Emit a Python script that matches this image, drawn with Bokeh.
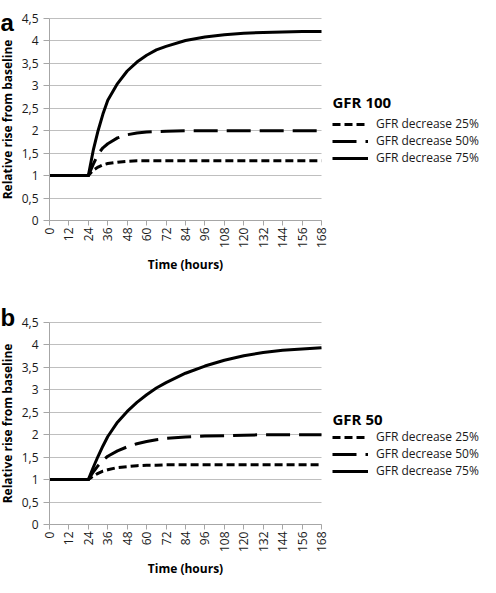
from math import pi
from bokeh.plotting import figure
from bokeh.models import Range1d, FixedTicker, Legend, LegendItem, Label
from bokeh.layouts import column
from bokeh.embed import file_html
from bokeh.resources import INLINE

# ---- data ----
hours = [0, 12, 24, 27, 30, 33, 36, 42, 48, 54, 60, 66, 72, 84, 96, 108, 120, 132, 144, 156, 168]

gfr100_dec25 = [1, 1, 1, 1.12, 1.19, 1.24, 1.27, 1.30, 1.32, 1.33, 1.33, 1.33, 1.33, 1.33, 1.33, 1.33, 1.33, 1.33, 1.33, 1.33, 1.33]
gfr100_dec50 = [1, 1, 1, 1.25, 1.48, 1.62, 1.71, 1.84, 1.91, 1.95, 1.97, 1.98, 1.99, 2.0, 2.0, 2.0, 2.0, 2.0, 2.0, 2.0, 2.0]
gfr100_dec75 = [1, 1, 1, 1.56, 2.0, 2.37, 2.68, 3.05, 3.33, 3.53, 3.68, 3.80, 3.88, 4.01, 4.09, 4.14, 4.17, 4.19, 4.20, 4.21, 4.21]

gfr50_dec25 = [1, 1, 1, 1.08, 1.14, 1.19, 1.22, 1.27, 1.29, 1.31, 1.32, 1.32, 1.33, 1.33, 1.33, 1.33, 1.33, 1.33, 1.33, 1.33, 1.33]
gfr50_dec50 = [1, 1, 1, 1.17, 1.31, 1.43, 1.52, 1.64, 1.73, 1.80, 1.85, 1.89, 1.92, 1.95, 1.97, 1.98, 1.99, 2.0, 2.0, 2.0, 2.0]
gfr50_dec75 = [1, 1, 1, 1.27, 1.52, 1.75, 1.96, 2.28, 2.52, 2.72, 2.89, 3.04, 3.16, 3.37, 3.53, 3.66, 3.76, 3.83, 3.88, 3.91, 3.94]

x_ticks = [0, 12, 24, 36, 48, 60, 72, 84, 96, 108, 120, 132, 144, 156, 168]
y_ticks = [0, 0.5, 1, 1.5, 2, 2.5, 3, 3.5, 4, 4.5]
y_tick_labels = ["0", "0,5", "1", "1,5", "2", "2,5", "3", "3,5", "4", "4,5"]

series_labels = ["GFR decrease 25%", "GFR decrease 50%", "GFR decrease 75%"]
panel_titles = ["GFR 100", "GFR 50"]
panel_letters = ["a", "b"]
x_title = "Time (hours)"
y_title = "Relative rise from baseline"

FONT = "Open Sans"
FIG_W = 480
PLOT_LEFT = 49      # pixel of x = 0
PLOT_W = 272        # pixels from x = 0 to x = 168
PLOT_H = 202        # pixels from y = 0 to y = 4.5
LEG_X = 332         # pixel of legend sample start
ITEM_H = 18         # measured legend row height
ROW = 16            # wanted legend row pitch

dashes = ["8 4", "24 9", "solid"]


def make_panel(letter, title, series, fig_h, plot_top, letter_base, title_cy, first_cy):
    x0, x1 = x_ticks[0], x_ticks[-1]
    y0, y1 = y_ticks[0], y_ticks[-1]
    xs = (x1 - x0) / PLOT_W
    ys = (y1 - y0) / PLOT_H
    plot_bottom = plot_top + PLOT_H
    xr = Range1d(x0 - PLOT_LEFT * xs, x0 + (FIG_W - PLOT_LEFT) * xs)
    yr = Range1d(y0 - (fig_h - plot_bottom) * ys, y1 + plot_top * ys)

    p = figure(width=FIG_W, height=fig_h, x_range=xr, y_range=yr,
               output_backend="svg", toolbar_location=None,
               min_border=0)
    p.outline_line_color = None
    p.background_fill_color = "white"
    p.border_fill_color = "white"

    p.xgrid.visible = False
    p.ygrid.ticker = FixedTicker(ticks=y_ticks)
    p.ygrid.grid_line_color = "#bfbfbf"
    p.ygrid.grid_line_width = 1
    p.ygrid.bounds = (y0, y1)
    p.ygrid.cross_bounds = (x0, x1)

    xa = p.xaxis[0]
    xa.fixed_location = y0
    xa.bounds = (x0, x1)
    xa.ticker = FixedTicker(ticks=x_ticks)
    xa.major_label_orientation = pi / 2
    xa.major_tick_out = 5
    xa.major_tick_in = 0
    xa.minor_tick_out = 0
    xa.minor_tick_in = 0
    xa.major_label_standoff = 2
    xa.axis_label = x_title
    xa.axis_label_standoff = 5

    ya = p.yaxis[0]
    ya.fixed_location = x0
    ya.bounds = (y0, y1)
    ya.ticker = FixedTicker(ticks=y_ticks)
    ya.major_label_overrides = dict(zip(y_ticks, y_tick_labels))
    ya.major_tick_out = 6
    ya.major_tick_in = 0
    ya.minor_tick_out = 0
    ya.minor_tick_in = 0
    ya.major_label_standoff = 5
    ya.axis_label = y_title
    ya.axis_label_standoff = 3

    for ax in (xa, ya):
        ax.axis_line_color = "#a6a6a6"
        ax.major_tick_line_color = "#a6a6a6"
        ax.major_label_text_font = FONT
        ax.major_label_text_font_size = "12px"
        ax.major_label_text_color = "#1a1a1a"
        ax.axis_label_text_font = FONT
        ax.axis_label_text_font_size = "12px"
        ax.axis_label_text_font_style = "bold"
        ax.axis_label_text_color = "#000000"

    items = []
    for vals, dash, lab in zip(series, dashes, series_labels):
        r = p.line(hours, vals, line_color="black", line_width=3,
                   line_dash=dash, line_cap="butt", line_join="round")
        items.append(LegendItem(label=lab, renderers=[r]))

    leg_top = first_cy - ITEM_H / 2
    leg_h = 3 * ITEM_H + 2 * (ROW - ITEM_H)
    leg = Legend(items=items, location=(LEG_X, fig_h - (leg_top + leg_h)),
                 label_text_font=FONT, label_text_font_size="12px",
                 label_text_color="#1a1a1a",
                 glyph_width=36, glyph_height=16, label_height=16,
                 label_standoff=8, spacing=ROW - ITEM_H, padding=0, margin=0,
                 background_fill_alpha=0, border_line_color=None)
    p.add_layout(leg)

    p.add_layout(Label(x=LEG_X, y=fig_h - title_cy, x_units="screen", y_units="screen",
                       text=title, text_font=FONT, text_font_size="15px",
                       text_font_style="bold", text_color="#000000",
                       text_baseline="middle", text_align="left"))

    p.add_layout(Label(x=0, y=fig_h - letter_base, x_units="screen", y_units="screen",
                       text=letter, text_font="Liberation Sans",
                       text_font_size="24px", text_font_style="bold",
                       text_color="#000000", text_baseline="alphabetic",
                       text_align="left"))
    return p


H1 = 290
H2 = 287
p1 = make_panel(panel_letters[0], panel_titles[0],
                [gfr100_dec25, gfr100_dec50, gfr100_dec75],
                H1, 18, 22, 101, 125)
p2 = make_panel(panel_letters[1], panel_titles[1],
                [gfr50_dec25, gfr50_dec50, gfr50_dec75],
                H2, 32, 27, 128, 148)

layout = column(p1, p2, spacing=0)

open("out.html", "w").write(file_html(layout, INLINE))
